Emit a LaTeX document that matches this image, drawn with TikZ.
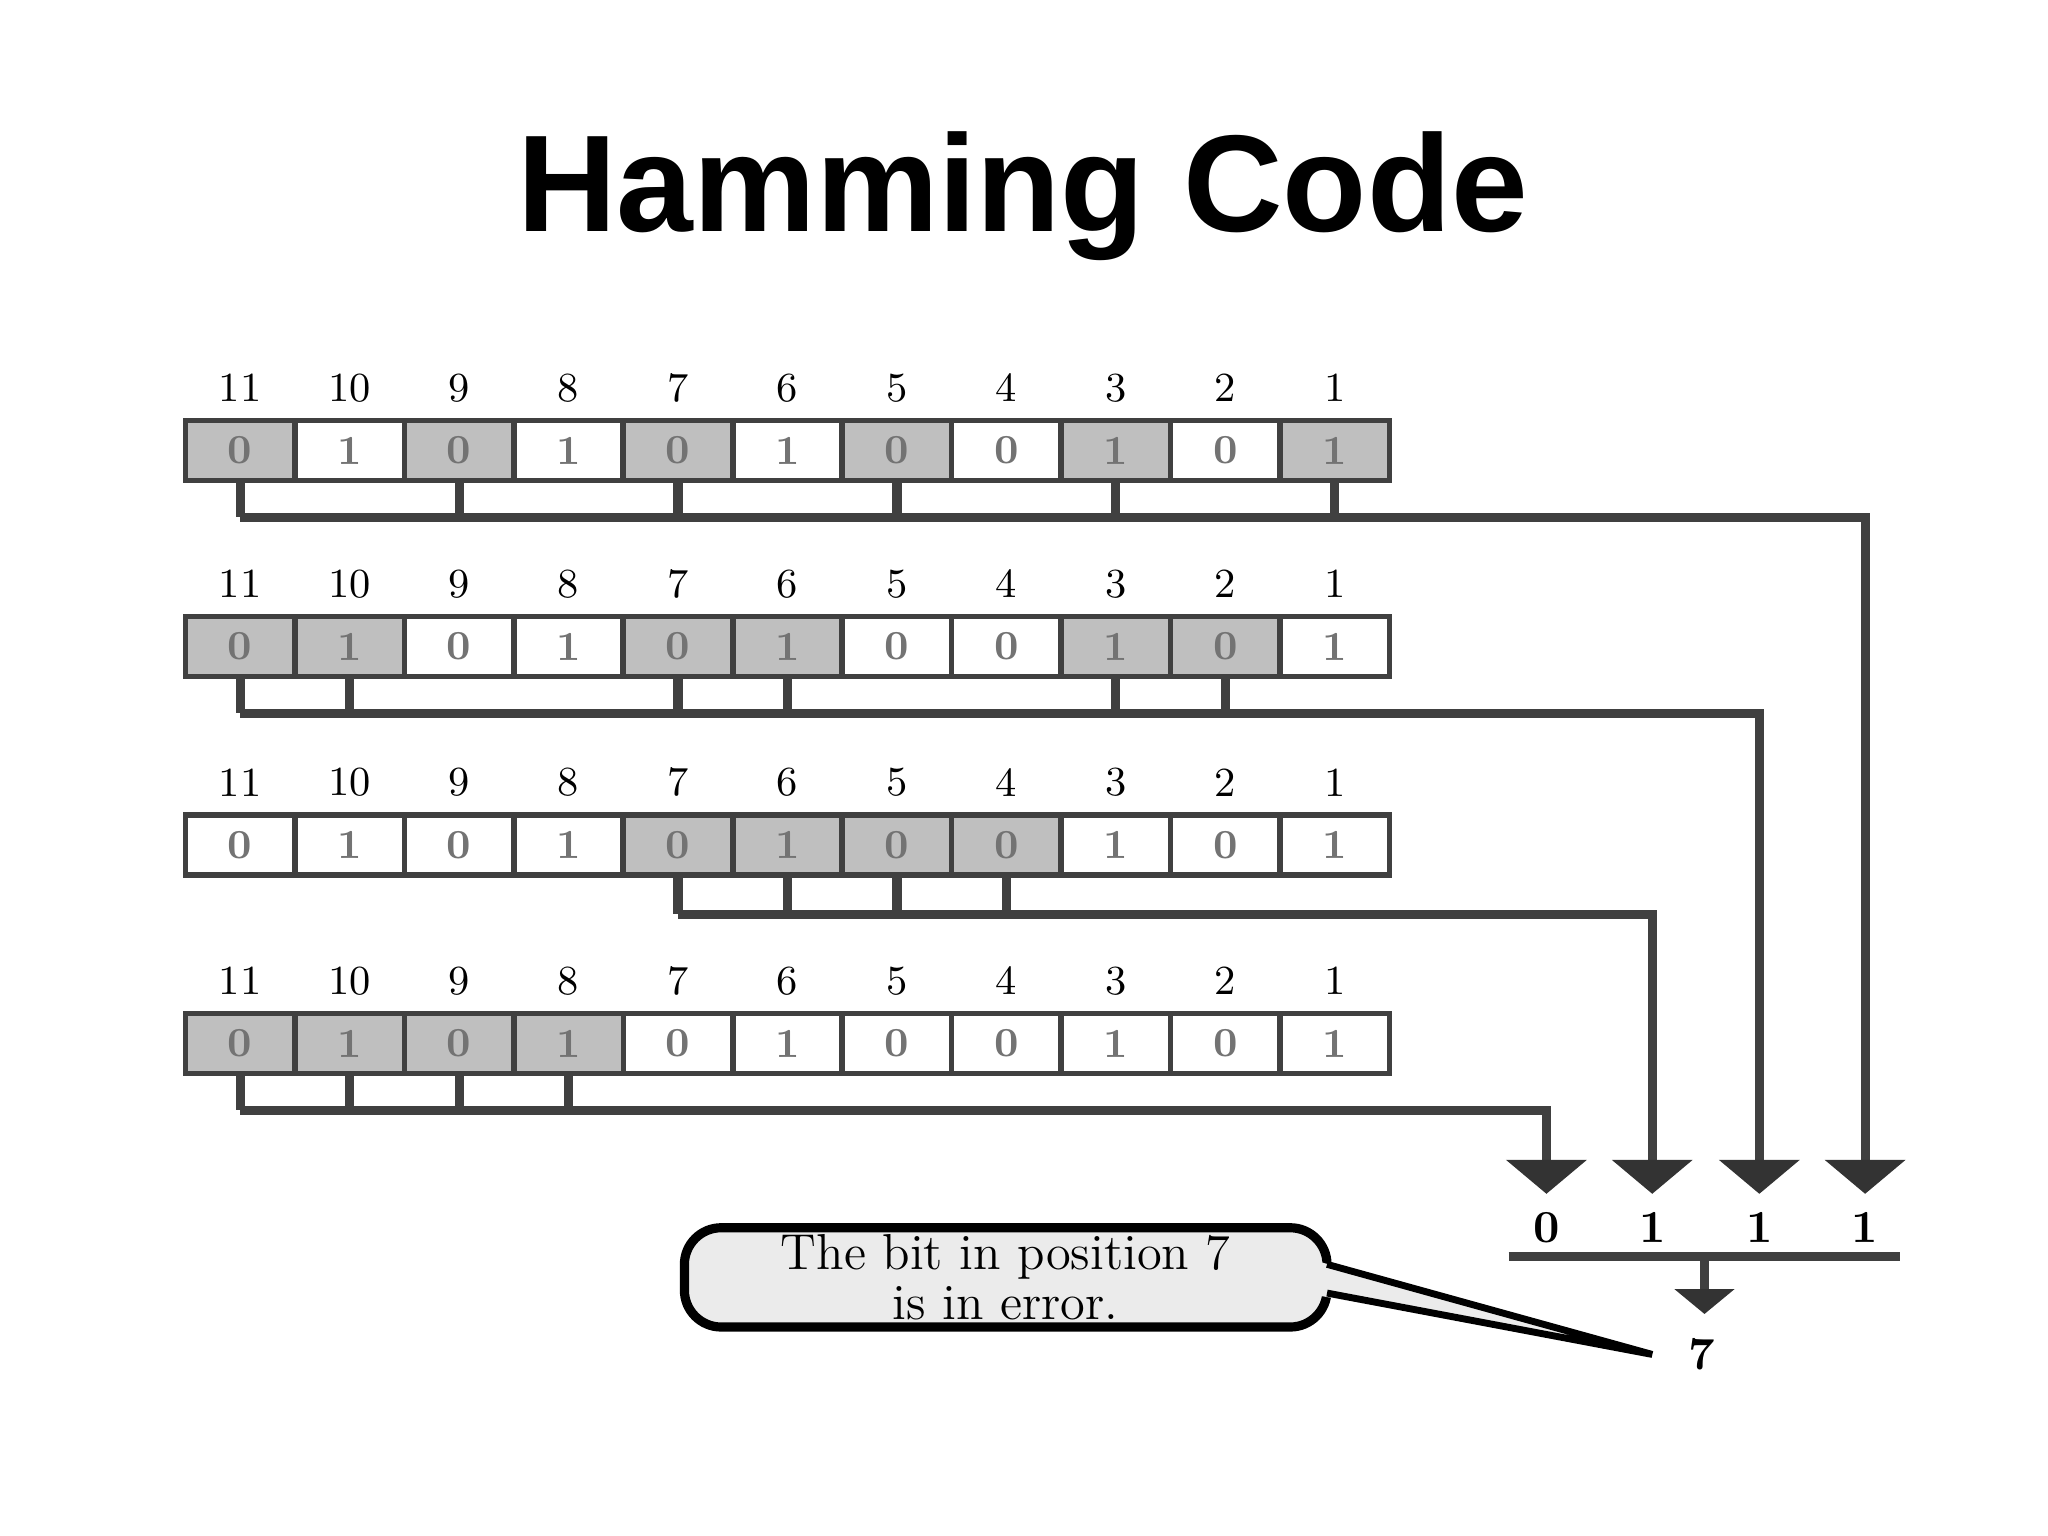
\documentclass[tikz,border=0pt]{standalone}
\usepackage{fontspec}
\newfontfamily\titlefont{Liberation Sans}
\usetikzlibrary{calc}
\begin{document}
\begin{tikzpicture}[x=0.01cm,y=-0.01cm,
  cell/.style={draw=black!75,line width=1.2pt,minimum width=0.838cm,minimum height=0.46cm,inner sep=0pt,text=black!55,font=\fontsize{9pt}{9pt}\selectfont\bfseries},
  sh/.style={fill=black!25},
  num/.style={font=\fontsize{9pt}{9pt}\selectfont},
  wire/.style={draw=black!75,line width=2pt},
  bigarrow/.style={fill=black!80}]
\useasboundingbox (0,0) rectangle (1568,1176);
\node[font=\titlefont\bfseries\fontsize{30pt}{30pt}\selectfont] (title) at (783,150) {Hamming Code};
% rows: y of boxes, shaded positions
\def\bits{{0,1,0,1,0,1,0,0,1,0,1}}
\foreach \r/\yy/\shl in {1/345/{11,9,7,5,3,1},2/495/{11,10,7,6,3,2},3/647/{7,6,5,4},4/799/{11,10,9,8}}{
  \foreach \p in {1,...,11}{
    \pgfmathsetmacro{\cx}{142+83.8*(11-\p+0.5)}
    \pgfmathtruncatemacro{\b}{\bits[11-\p]}
    \def\isshade{0}
    \foreach \q in \shl {\ifnum\q=\p\global\def\isshade{1}\fi}
    \ifnum\isshade=1
      \node[cell,sh] (c\r-\p) at (\cx,\yy) {\b};
    \else
      \node[cell] (c\r-\p) at (\cx,\yy) {\b};
    \fi
    \node[num] (n\r-\p) at (\cx,\yy-48) {\p};
  }
}
% connectors
\coordinate (e1) at (1428,396); \coordinate (e2) at (1347,546);
\coordinate (e3) at (1265,700); \coordinate (e4) at (1184,850);
\coordinate (a1) at (1428,890); \coordinate (a2) at (1347,890);
\coordinate (a3) at (1265,890); \coordinate (a4) at (1184,890);
\foreach \r/\shl/\first in {1/{11,9,7,5,3,1}/11,2/{11,10,7,6,3,2}/11,3/{7,6,5,4}/7,4/{11,10,9,8}/11}{
  \foreach \q in \shl {\draw[wire] (c\r-\q.south) -- (c\r-\q.south |- e\r);}
  \draw[wire] (c\r-\first.south |- e\r) -- (e\r) -- (a\r);
}
\foreach \i/\v in {1/1,2/1,3/1,4/0}{
  \fill[bigarrow] ($(a\i)+(-31,-2)$) -- ($(a\i)+(31,-2)$) -- ($(a\i)+(0,24)$) -- cycle;
  \node[num,font=\fontsize{10pt}{10pt}\selectfont\bfseries] (r\i) at ($(a\i)+(0,50)$) {\v};
}
\coordinate (hl) at (1155,962); \coordinate (hr) at (1455,962);
\draw[black!75,line width=2pt] (hl) -- (hr);
\coordinate (s1) at (1305,962); \coordinate (s2) at (1305,988);
\draw[wire] (s1) -- (s2);
\fill[bigarrow] (1282,987) -- (1328,987) -- (1305,1006) -- cycle;
\node[font=\fontsize{10pt}{10pt}\selectfont\bfseries] (seven) at (1303,1037) {7};
\coordinate (tip) at (1265,1037);
\draw[line width=2pt,fill=black!8,rounded corners=8pt] (524,940) rectangle (1016,1016);
\fill[black!8] (1010,966) -- (tip) -- (1010,992) -- cycle;
\draw[line width=1.5pt] (1016,968) -- (tip) -- (1016,990);
\node[align=center,font=\fontsize{11pt}{11pt}\selectfont] (msg) at (770,978) {The bit in position 7\\is in error.};
\end{tikzpicture}
\end{document}
